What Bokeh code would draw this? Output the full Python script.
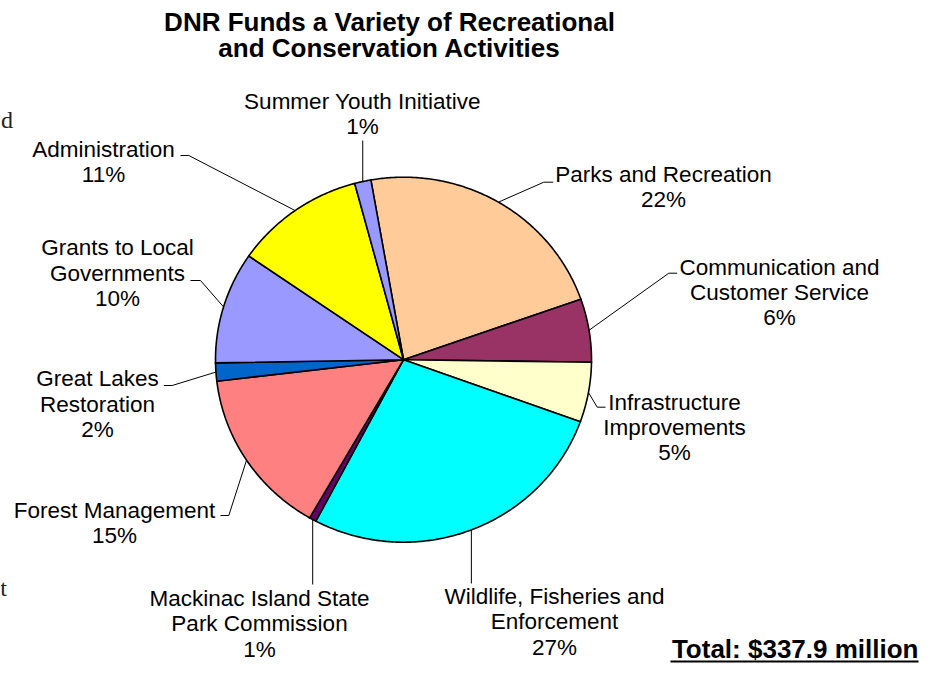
import numpy as np
from bokeh.plotting import figure
from bokeh.models import Range1d
from bokeh.core.properties import value
from bokeh.embed import file_html
from bokeh.resources import INLINE

# ---------------- data ----------------
categories = [
    "Parks and Recreation",
    "Communication and\nCustomer Service",
    "Infrastructure\nImprovements",
    "Wildlife, Fisheries and\nEnforcement",
    "Mackinac Island State\nPark Commission",
    "Forest Management",
    "Great Lakes\nRestoration",
    "Grants to Local\nGovernments",
    "Administration",
    "Summer Youth Initiative",
]
shares = [22.4, 5.6, 5.3, 27.2, 0.6, 14.8, 1.6, 9.9, 11.2, 1.4]  # percent of total
colors = ["#FFCC99", "#993366", "#FFFFCC", "#00FFFF", "#660066",
          "#FF8080", "#0066CC", "#9999FF", "#FFFF00", "#9999FF"]
title_lines = ["DNR Funds a Variety of Recreational", "and Conservation Activities"]
total_text = "Total: $337.9 million"

# ---------------- layout ----------------
W, H = 919, 663
CX, CY, RX, RY = 403.0, 359.2, 188.0, 182.5
START_DEG = -10.0
LINE_GAP = 25.3
FONT = "Liberation Sans"

# label anchor (center x, center y of first line)
label_pos = [(663, 174), (779, 266.7), (674, 401.7), (554, 596), (259, 598),
             (114, 510), (97, 378.3), (117, 247.3), (103, 149), (362, 101)]
# leader path after the edge point; ("v", y) means vertical to y
leader = [
    [(543.3, 181.7), (552.7, 181.7)],
    [(668.3, 272.7), (676.7, 272.7)],
    [(596.7, 406.7), (605.0, 406.7)],
    ("v", 583.0),
    ("v", 584.0),
    [(228.3, 515.0), (220.0, 515.0)],
    [(171.7, 385.0), (163.3, 385.0)],
    [(200.0, 280.0), (190.0, 280.0)],
    [(188.3, 155.0), (180.0, 155.0)],
    ("v", 140.0),
]

p = figure(width=W, height=H, output_backend="svg", toolbar_location=None,
           x_range=Range1d(0, W), y_range=Range1d(H, 0),
           min_border=0, outline_line_color=None, background_fill_color="white",
           border_fill_color="white")
p.axis.visible = False
p.grid.visible = False

# ---------------- slices ----------------
total = sum(shares)
cum = np.concatenate([[0], np.cumsum(shares)])
xs, ys, mids = [], [], []
for i in range(len(shares)):
    a0 = np.radians(START_DEG + 360 * cum[i] / total)
    a1 = np.radians(START_DEG + 360 * cum[i + 1] / total)
    n = max(4, int(np.degrees(a1 - a0) * 2))
    t = np.linspace(a0, a1, n)
    xs.append([CX] + list(CX + RX * np.sin(t)))
    ys.append([CY] + list(CY - RY * np.cos(t)))
    mids.append((a0 + a1) / 2)

p.patches(xs, ys, fill_color=colors, line_color="black", line_width=1.6,
          line_join="miter")

# ---------------- leaders ----------------
lx, ly = [], []
for i, m in enumerate(mids):
    ex, ey = CX + RX * np.sin(m), CY - RY * np.cos(m)
    path = leader[i]
    if isinstance(path, tuple):
        lx.append([ex, ex]); ly.append([ey, path[1]])
    else:
        lx.append([ex] + [q[0] for q in path]); ly.append([ey] + [q[1] for q in path])
p.multi_line(lx, ly, line_color="black", line_width=1)

# ---------------- labels ----------------
tx, ty, tt = [], [], []
for i, cat in enumerate(categories):
    lines = cat.split("\n") + [f"{round(shares[i])}%"]
    x0, y0 = label_pos[i]
    for k, s in enumerate(lines):
        tx.append(x0); ty.append(y0 + k * LINE_GAP); tt.append(s)
p.text(x=tx, y=ty, text=tt, text_font=value(FONT), text_font_size="22.5px",
       text_align="center", text_baseline="middle", text_color="black")

# ---------------- title ----------------
p.text(x=[389, 389], y=[21, 47], text=title_lines, text_font=value(FONT),
       text_font_size="26px", text_font_style="bold", text_align="center",
       text_baseline="middle", text_color="black")

# ---------------- total ----------------
p.text(x=[918], y=[648], text=[total_text], text_font=value(FONT),
       text_font_size="26px", text_font_style="bold", text_align="right",
       text_baseline="middle", text_color="black")
p.segment(x0=[670], y0=[661], x1=[918], y1=[661], line_color="black", line_width=2)

# stray glyphs from the surrounding page
p.text(x=[12.5, 6.5], y=[119.5, 587.5], text=["d", "t"],
       text_font=value("Liberation Serif"), text_font_size="24px",
       text_align="right", text_baseline="alphabetic", text_color="#222222")

open("out.html", "w").write(file_html(p, INLINE))
